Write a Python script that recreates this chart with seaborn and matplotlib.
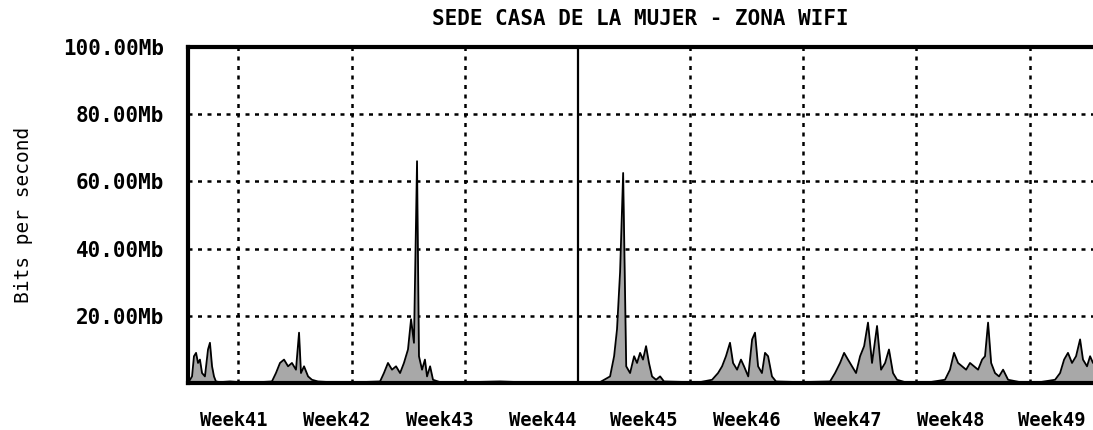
import matplotlib
matplotlib.use("Agg")
import matplotlib.pyplot as plt
import seaborn as sns
import pandas as pd

# ---- data -------------------------------------------------------------
title = "SEDE CASA DE LA MUJER - ZONA WIFI"
ylabel = "Bits per second"
y_ticks = [20, 40, 60, 80, 100]
y_tick_labels = ["20.00Mb", "40.00Mb", "60.00Mb", "80.00Mb", "100.00Mb"]
week_labels = ["Week41", "Week42", "Week43", "Week44", "Week45",
               "Week46", "Week47", "Week48", "Week49"]
week_label_days = [2.85, 9.23, 15.61, 21.99, 28.25, 34.64, 40.89, 47.27, 53.53]
week_grid_days = [3.10, 10.16, 17.16, 31.10, 38.10, 45.11, 52.17]
marker_day = 24.16

# time in days since start of graph, traffic in Mb/s
days = [0.00, 0.25, 0.37, 0.50, 0.62, 0.74, 0.87, 1.05, 1.24, 1.36, 1.49, 1.61,
        1.73, 1.98, 2.60, 3.22, 4.46, 5.20, 5.45, 5.70, 5.95, 6.20, 6.44, 6.69,
        6.88, 7.00, 7.19, 7.44, 7.68, 8.05, 8.80, 10.66, 11.90, 12.14, 12.39,
        12.64, 12.89, 13.14, 13.38, 13.63, 13.82, 14.00, 14.19, 14.31, 14.50,
        14.68, 14.81, 15.00, 15.18, 15.61, 17.47, 19.33, 20.57, 23.05, 25.53,
        26.15, 26.40, 26.58, 26.77, 26.96, 27.15, 27.39, 27.64, 27.82, 28.01,
        28.19, 28.38, 28.56, 28.75, 29.00, 29.25, 29.49, 31.10, 31.72, 32.47,
        32.84, 33.09, 33.33, 33.58, 33.77, 34.02, 34.26, 34.45, 34.71, 34.95,
        35.13, 35.32, 35.56, 35.75, 35.94, 36.18, 36.43, 37.92, 39.78, 40.09,
        40.40, 40.65, 40.89, 41.14, 41.39, 41.64, 41.89, 42.13, 42.38, 42.69,
        42.94, 43.19, 43.43, 43.68, 43.93, 44.42, 45.97, 46.90, 47.21, 47.46,
        47.71, 47.96, 48.21, 48.45, 48.70, 48.95, 49.20, 49.38, 49.57, 49.76,
        50.00, 50.25, 50.50, 50.81, 51.55, 52.79, 53.72, 54.03, 54.28, 54.52,
        54.77, 55.02, 55.27, 55.45, 55.70, 55.89, 56.07]
mbps = [0, 2, 8, 9, 6, 7, 3, 2, 10, 12, 5, 2,
        0.5, 0.3, 0.5, 0.3, 0.3, 0.5, 3, 6, 7, 5, 6, 4,
        15, 3, 5, 2, 1, 0.5, 0.3, 0.3, 0.5, 3, 6,
        4, 5, 3, 6, 10, 19, 12, 66, 8, 4,
        7, 2, 5, 1, 0.3, 0.3, 0.5, 0.3, 0.3, 0.3,
        2, 8, 16, 33, 62.5, 5, 3, 8, 6, 9,
        7, 11, 6, 2, 1, 2, 0.5, 0.3, 0.3, 1,
        3, 5, 8, 12, 6, 4, 7, 5, 2, 13,
        15, 5, 3, 9, 8, 2, 0.5, 0.3, 0.5, 3,
        6, 9, 7, 5, 3, 8, 11, 18, 6, 17,
        4, 6, 10, 3, 1, 0.3, 0.3, 1, 4, 9,
        6, 5, 4, 6, 5, 4, 7, 8, 18, 6,
        3, 2, 4, 1, 0.3, 0.3, 1, 3, 7, 9,
        6, 8, 13, 7, 5, 8, 6]

df = pd.DataFrame({"day": days, "mbps": mbps})

# ---- plot -------------------------------------------------------------
sns.set_theme(style="white")
plt.rcParams["font.family"] = ["DejaVu Sans Mono", "DejaVu Sans"]
plt.rcParams["text.color"] = "black"
plt.rcParams["axes.labelcolor"] = "black"
plt.rcParams["xtick.color"] = "black"
plt.rcParams["ytick.color"] = "black"

fig = plt.figure(figsize=(10.93, 4.30), dpi=100)
ax = fig.add_axes([0.172, 0.109, 0.828, 0.782])

ax.fill_between(df["day"], 0, df["mbps"], color="#a8a8a8", linewidth=0, zorder=2)
sns.lineplot(data=df, x="day", y="mbps", ax=ax, color="black", linewidth=1.3,
             zorder=3)

ax.set_xlim(0, days[-1])
ax.set_ylim(0, 100)

# grid
for y in y_ticks[:-1]:
    ax.axhline(y, color="black", linestyle=(0, (1.6, 2.2)), linewidth=1.8, zorder=1)
for d in week_grid_days:
    ax.axvline(d, color="black", linestyle=(0, (1.6, 2.2)), linewidth=1.8, zorder=1)
ax.axvline(marker_day, color="black", linestyle="-", linewidth=1.6, zorder=1)

ax.set_yticks(y_ticks)
ax.set_yticklabels(y_tick_labels, fontsize=15, fontweight="bold")
ax.set_xticks(week_label_days)
ax.set_xticklabels(week_labels, fontsize=13.5, fontweight="bold")
ax.tick_params(axis="y", length=0, pad=17)
ax.tick_params(axis="x", length=0, pad=20)

ax.set_xlabel("")
ax.set_ylabel(ylabel, fontsize=14, labelpad=22)
ax.set_title(title, fontsize=15, fontweight="bold", pad=16)

for side in ["left", "top", "bottom"]:
    ax.spines[side].set_visible(True)
    ax.spines[side].set_color("black")
    ax.spines[side].set_linewidth(3)
ax.spines["right"].set_visible(False)

fig.savefig("out.png", dpi=100, facecolor="white")
